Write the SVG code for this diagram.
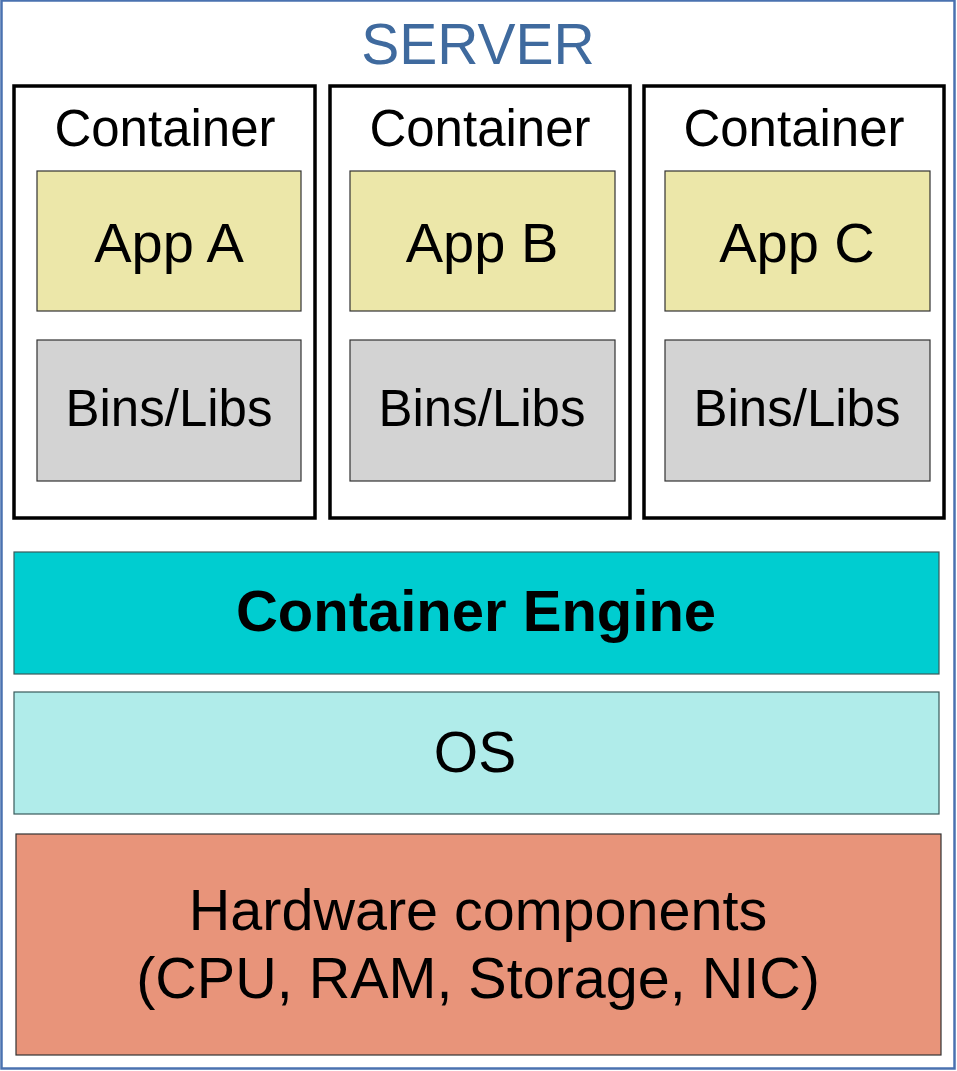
<svg xmlns="http://www.w3.org/2000/svg" width="957" height="1071" viewBox="0 0 957 1071">
<style>
text{font-family:"Liberation Sans",Arial,sans-serif;text-anchor:middle;fill:#000}
.ctr{fill:#fff;stroke:#000;stroke-width:3.5}
.app{fill:#ece7a9;stroke:#333;stroke-width:1.2}
.bin{fill:#d3d3d3;stroke:#333;stroke-width:1.2}
.lbl{font-size:51px}
.applbl{font-size:56px}
</style>
<rect x="1.5" y="0.5" width="953" height="1068" fill="#fff" stroke="#4a72b0" stroke-width="2.5"/>
<g id="server-title"><text x="478" y="64" style="font-size:57px;fill:#3f6a9e">SERVER</text></g>
<g id="container-a">
<rect class="ctr" x="14" y="86" width="301" height="432"/>
<text class="lbl" x="165" y="146">Container</text>
<rect class="app" x="37" y="171" width="264" height="140"/>
<text class="applbl" x="169" y="262">App A</text>
<rect class="bin" x="37" y="340" width="264" height="141"/>
<text class="lbl" x="169" y="426">Bins/Libs</text>
</g>
<g id="container-b">
<rect class="ctr" x="330" y="86" width="300" height="432"/>
<text class="lbl" x="480" y="146">Container</text>
<rect class="app" x="350" y="171" width="265" height="140"/>
<text class="applbl" x="482" y="262">App B</text>
<rect class="bin" x="350" y="340" width="265" height="141"/>
<text class="lbl" x="482" y="426">Bins/Libs</text>
</g>
<g id="container-c">
<rect class="ctr" x="644" y="86" width="300" height="432"/>
<text class="lbl" x="794" y="146">Container</text>
<rect class="app" x="665" y="171" width="265" height="140"/>
<text class="applbl" x="797" y="262">App C</text>
<rect class="bin" x="665" y="340" width="265" height="141"/>
<text class="lbl" x="797" y="426">Bins/Libs</text>
</g>
<g id="container-engine">
<rect x="14" y="552" width="925" height="122" fill="#00cdd0" stroke="#3a5a5a" stroke-width="1.2"/>
<text x="476" y="631" style="font-size:58px;font-weight:bold">Container Engine</text>
</g>
<g id="os">
<rect x="14" y="692" width="925" height="122" fill="#b0ecea" stroke="#3a5a5a" stroke-width="1.2"/>
<text x="475" y="772" style="font-size:57px">OS</text>
</g>
<g id="hardware">
<rect x="16" y="834" width="925" height="221" fill="#e8947a" stroke="#333" stroke-width="1.2"/>
<text x="478" y="930" style="font-size:57.5px">Hardware components</text>
<text x="478" y="998" style="font-size:57.5px">(CPU, RAM, Storage, NIC)</text>
</g>
<g id="connectors"/>
</svg>
